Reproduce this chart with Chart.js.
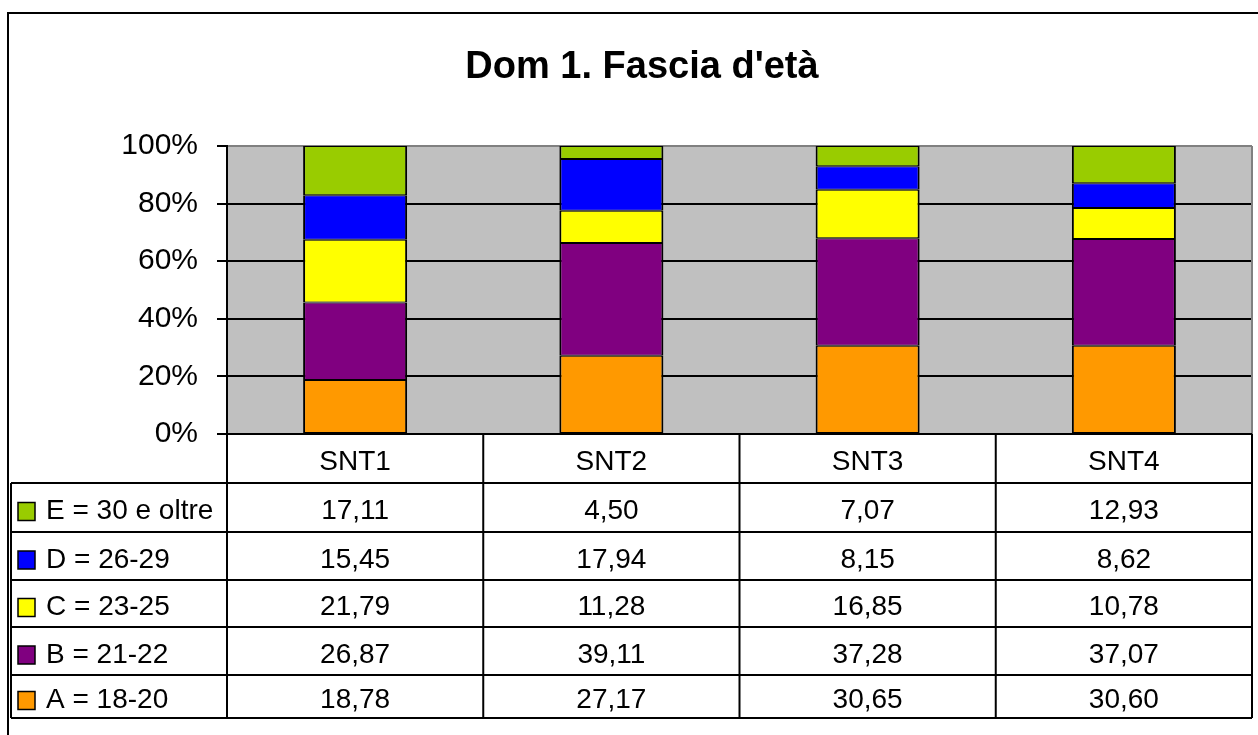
<!DOCTYPE html>
<html>
<head>
<meta charset="utf-8">
<script src="https://cdn.jsdelivr.net/npm/chart.js@4"></script>
<style>
  body { margin: 0; background: #fff; }
</style>
</head>
<body>
<canvas id="grafico" width="1258" height="735"></canvas>
<script>
// Dati del grafico
var titolo = "Dom 1. Fascia d'età";
var categorie = ["SNT1", "SNT2", "SNT3", "SNT4"];
var etichette = ["A = 18-20", "B = 21-22", "C = 23-25", "D = 26-29", "E = 30 e oltre"];
var serieA = [18.78, 27.17, 30.65, 30.60];
var serieB = [26.87, 39.11, 37.28, 37.07];
var serieC = [21.79, 11.28, 16.85, 10.78];
var serieD = [15.45, 17.94, 8.15, 8.62];
var serieE = [17.11, 4.50, 7.07, 12.93];
var tickY = [0, 20, 40, 60, 80, 100];

var colori = ["#FF9900", "#800080", "#FFFF00", "#0000FF", "#99CC00"];
var serie = [serieA, serieB, serieC, serieD, serieE];
var FONT = "'Liberation Sans', Arial, sans-serif";

// righe della tabella (bordi orizzontali)
var righe = [434, 483, 532, 580, 627, 675, 718];

function formatta(v) {
    return v.toFixed(2).replace('.', ',');
}

var datasets = [];
for (var i = 0; i < serie.length; i++) {
    datasets.push({
        label: etichette[i],
        data: serie[i],
        backgroundColor: colori[i],
        borderColor: '#000',
        borderWidth: { top: 1, bottom: 1, left: 2, right: 2 },
        borderSkipped: false,
        inflateAmount: 0,
        categoryPercentage: 1,
        barPercentage: 0.406
    });
}

var sfondoPlot = {
    id: 'sfondoPlot',
    beforeDraw: function (chart) {
        var ctx = chart.ctx, a = chart.chartArea;
        ctx.save();
        ctx.fillStyle = '#fff';
        ctx.fillRect(0, 0, chart.width, chart.height);
        ctx.fillStyle = '#C0C0C0';
        ctx.fillRect(a.left, a.top, a.right - a.left, a.bottom - a.top);
        ctx.restore();
    }
};

var tabella = {
    id: 'tabella',
    afterDraw: function (chart) {
        var ctx = chart.ctx, a = chart.chartArea, x = chart.scales.x;
        var colW = (a.right - a.left) / categorie.length;
        ctx.save();
        // titolo
        ctx.fillStyle = '#000';
        ctx.font = 'bold 38px ' + FONT;
        ctx.textAlign = 'center';
        ctx.textBaseline = 'alphabetic';
        ctx.fillText(titolo, 642, 78);

        // bordo destro plot
        ctx.strokeStyle = '#808080';
        ctx.lineWidth = 2;
        ctx.beginPath();
        ctx.moveTo(a.right, a.top);
        ctx.lineTo(a.right, a.bottom);
        ctx.stroke();

        // griglia tabella
        ctx.strokeStyle = '#000';
        ctx.lineWidth = 2;
        ctx.beginPath();
        ctx.moveTo(a.left, righe[0]);
        ctx.lineTo(a.right, righe[0]);
        for (var r = 1; r < righe.length; r++) {
            ctx.moveTo(11, righe[r]);
            ctx.lineTo(a.right, righe[r]);
        }
        for (var c = 0; c <= categorie.length; c++) {
            var cx = a.left + c * colW;
            ctx.moveTo(cx, righe[0]);
            ctx.lineTo(cx, righe[righe.length - 1]);
        }
        ctx.moveTo(11, righe[1]);
        ctx.lineTo(11, righe[righe.length - 1]);
        ctx.stroke();

        // cornice esterna
        ctx.beginPath();
        ctx.moveTo(8, 735);
        ctx.lineTo(8, 13);
        ctx.lineTo(1258, 13);
        ctx.stroke();

        // intestazioni
        ctx.font = '28px ' + FONT;
        ctx.textBaseline = 'middle';
        ctx.textAlign = 'center';
        for (var k = 0; k < categorie.length; k++) {
            ctx.fillText(categorie[k], x.getPixelForValue(k), (righe[0] + righe[1]) / 2 + 4);
        }
        // righe: dall'alto E, D, C, B, A
        for (var s = 0; s < serie.length; s++) {
            var idx = serie.length - 1 - s;
            var yc = (righe[s + 1] + righe[s + 2]) / 2 + 4;
            ctx.textAlign = 'center';
            ctx.fillStyle = '#000';
            for (var k2 = 0; k2 < categorie.length; k2++) {
                ctx.fillText(formatta(serie[idx][k2]), x.getPixelForValue(k2), yc);
            }
            // legenda
            ctx.fillStyle = colori[idx];
            ctx.fillRect(18, yc - 9, 17, 18);
            ctx.lineWidth = 1.5;
            ctx.strokeRect(18, yc - 9, 17, 18);
            ctx.fillStyle = '#000';
            ctx.textAlign = 'left';
            ctx.fillText(etichette[idx], 46, yc);
        }
        ctx.restore();
    }
};

new Chart(document.getElementById('grafico').getContext('2d'), {
    type: 'bar',
    data: { labels: categorie, datasets: datasets },
    options: {
        responsive: false,
        devicePixelRatio: 1,
        animation: false,
        layout: { padding: { left: 0, top: 146, right: 6, bottom: 301 } },
        plugins: {
            legend: { display: false },
            title: { display: false },
            tooltip: { enabled: false }
        },
        scales: {
            x: { stacked: true, display: false },
            y: {
                stacked: true,
                min: 0,
                max: 100,
                afterBuildTicks: function (scale) {
                    scale.ticks = tickY.map(function (v) { return { value: v }; });
                },
                afterFit: function (scale) { scale.width = 227; },
                border: { display: true, color: '#000', width: 2 },
                grid: {
                    color: function (c) { return c.tick && c.tick.value === 100 ? '#808080' : '#000'; },
                    tickColor: '#000',
                    lineWidth: 2,
                    tickLength: 10
                },
                ticks: {
                    color: '#000',
                    padding: 19,
                    font: { family: FONT, size: 30 },
                    callback: function (v) { return v + '%'; }
                }
            }
        }
    },
    plugins: [sfondoPlot, tabella]
});
</script>
</body>
</html>
